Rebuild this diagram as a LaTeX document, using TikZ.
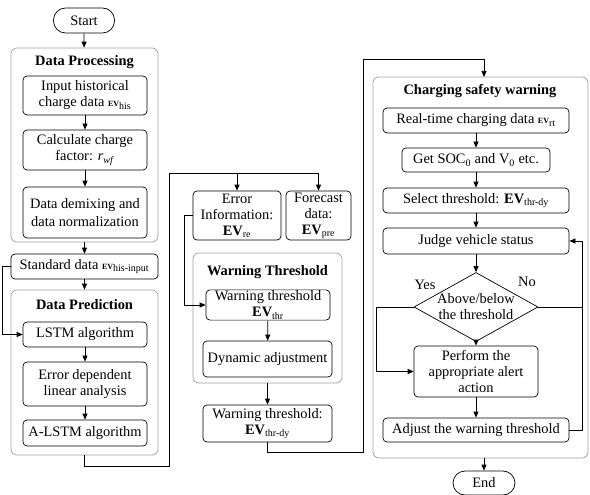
\documentclass[tikz,border=0pt]{standalone}
\usepackage{fontspec}
\setmainfont{Liberation Serif}
\usetikzlibrary{arrows.meta,shapes.geometric}
\newcommand{\evb}{\textbf{EV}}
\newcommand{\evs}{\textbf{\footnotesize EV}}

\begin{document}
\begin{tikzpicture}[x=1pt, y=-1pt, >={Triangle[length=6pt,width=5pt]},
  every node/.style={font=\fontsize{14.4}{16}\selectfont, align=center,
  inner sep=1pt}, line width=0.7pt,
  box/.style={draw, rounded corners=4pt},
  grp/.style={draw=gray!75, rounded corners=6pt},
  term/.style={draw, rounded corners=12pt},
  ttl/.style={font=\fontsize{14.4}{16}\selectfont\bfseries},
  dia/.style={draw, diamond, inner sep=0pt, minimum width=124pt,
  minimum height=69pt}]
  \useasboundingbox (0,0) rectangle (590,495);
  % terminals
  \node[term, minimum width=61pt, minimum height=25pt] (start) at (84,20.5) {Start};
  \node[term, minimum width=62pt, minimum height=24pt] (end) at (484,483) {End};
  % data processing
  \node[grp, minimum width=147pt, minimum height=194pt] (dpg) at (84.5,145) {};
  \node[ttl] (dpt) at (84.5,62) {Data Processing};
  \node[box, minimum width=124pt, minimum height=39pt] (inp) at (85,95.5)
    {Input historical\\charge data \evs\textsubscript{his}};
  \node[box, minimum width=124pt, minimum height=40pt] (calc) at (85,150)
    {Calculate charge\\factor: \textit{r}\textsubscript{\textit{wf}}};
  \node[box, minimum width=124pt, minimum height=51pt] (dmx) at (85,212.5)
    {Data demixing and\\[2pt]data normalization};
  \node[box, minimum width=147pt, minimum height=25pt] (std) at (84.5,266.5)
    {Standard data \evs\textsubscript{his-input}};
  % data prediction
  \node[grp, minimum width=147pt, minimum height=165pt] (dpr) at (84.5,372.5) {};
  \node[ttl] (dprt) at (84.5,305) {Data Prediction};
  \node[box, minimum width=124pt, minimum height=25pt] (lstm) at (85,334.5) {LSTM algorithm};
  \node[box, minimum width=124pt, minimum height=44pt] (edl) at (85,384)
    {Error dependent\\linear analysis};
  \node[box, minimum width=124pt, minimum height=26pt] (alstm) at (85,433) {A-LSTM algorithm};
  % outputs and warning threshold
  \node[box, minimum width=88pt, minimum height=49pt] (einf) at (237,215.5)
    {Error\\Information:\\\evb\textsubscript{re}};
  \node[box, minimum width=65pt, minimum height=49pt] (fcst) at (318.5,215.5)
    {Forecast\\data:\\\evb\textsubscript{pre}};
  \node[grp, minimum width=149pt, minimum height=130pt] (wtg) at (267.5,318) {};
  \node[ttl] (wtt) at (267.5,272) {Warning Threshold};
  \node[box, minimum width=124pt, minimum height=26pt] (wthr) at (268,305)
    {Warning threshold\\\evb\textsubscript{thr}};
  \node[box, minimum width=129pt, minimum height=36pt] (dyn) at (267.5,359) {Dynamic adjustment};
  \node[box, minimum width=129pt, minimum height=37pt] (wdy) at (267.5,423.5)
    {Warning threshold:\\\evb\textsubscript{thr-dy}};
  % charging safety warning
  \node[grp, minimum width=215pt, minimum height=381pt] (csw) at (480.5,267.5) {};
  \node[ttl] (cswt) at (480,91) {Charging safety warning};
  \node[box, minimum width=186pt, minimum height=25pt] (rt) at (476,120.5)
    {Real-time charging data \evs\textsubscript{rt}};
  \node[box, minimum width=148pt, minimum height=24pt] (soc) at (476,160)
    {Get SOC\textsubscript{0} and V\textsubscript{0} etc.};
  \node[box, minimum width=186pt, minimum height=25pt] (sel) at (476,200.5)
    {Select threshold: \evb\textsubscript{thr-dy}};
  \node[box, minimum width=186pt, minimum height=26pt] (jdg) at (476,241) {Judge vehicle status};
  \node[dia, label={[align=center]center:Above/below\\the threshold}] (dec) at (476,307) {};
  \node[box, minimum width=124pt, minimum height=51pt] (perf) at (476,371.5)
    {Perform the\\appropriate alert\\action};
  \node[box, minimum width=186pt, minimum height=24pt] (adj) at (476,430)
    {Adjust the warning threshold};
  \node (yes) at (425,285) {Yes};
  \node (no) at (527,282) {No};
  % joints
  \coordinate (j1) at (169,466);
  \coordinate (j2) at (169,173);
  \coordinate (j3) at (363,452);
  \coordinate (j4) at (363,59);
  \coordinate (cin) at (484,77);
  \coordinate (nr) at (582,241);
  % connectors
  \draw[->] (start) -- (dpg);
  \draw[->] (inp) -- (calc);
  \draw[->] (calc) -- (dmx);
  \draw[->] (dpg) -- (std);
  \draw[->] (std) -- (dpr);
  \draw[->] (std.west) -- ++(-8,0) |- (lstm.west);
  \draw[->] (lstm) -- (edl);
  \draw[->] (edl) -- (alstm);
  \draw (dpr.south) |- (j1) -- (j2);
  \draw[->] (j2) -| (einf.north);
  \draw[->] (j2) -| (fcst.north);
  \draw[->] (einf.west) -- ++(-8,0) |- (wthr.west);
  \draw[->] (wthr) -- (dyn);
  \draw[->] (wtg) -- (wdy);
  \draw (wdy.south) |- (j3) -- (j4);
  \draw[->] (j4) -| (cin);
  \draw[->] (rt) -- (soc);
  \draw[->] (soc) -- (sel);
  \draw[->] (sel) -- (jdg);
  \draw[->] (jdg) -- (dec);
  \draw[->] (dec) -- (perf);
  \draw[->] (perf) -- (adj);
  \draw[->] (dec.west) -- ++(-37,0) |- (perf.west);
  \draw[->] (dec.east) -| (nr) -- (jdg.east);
  \draw (adj.east) -| (nr);
  \draw[->] (end.north |- csw.south) -- (end.north);
\end{tikzpicture}
\end{document}
